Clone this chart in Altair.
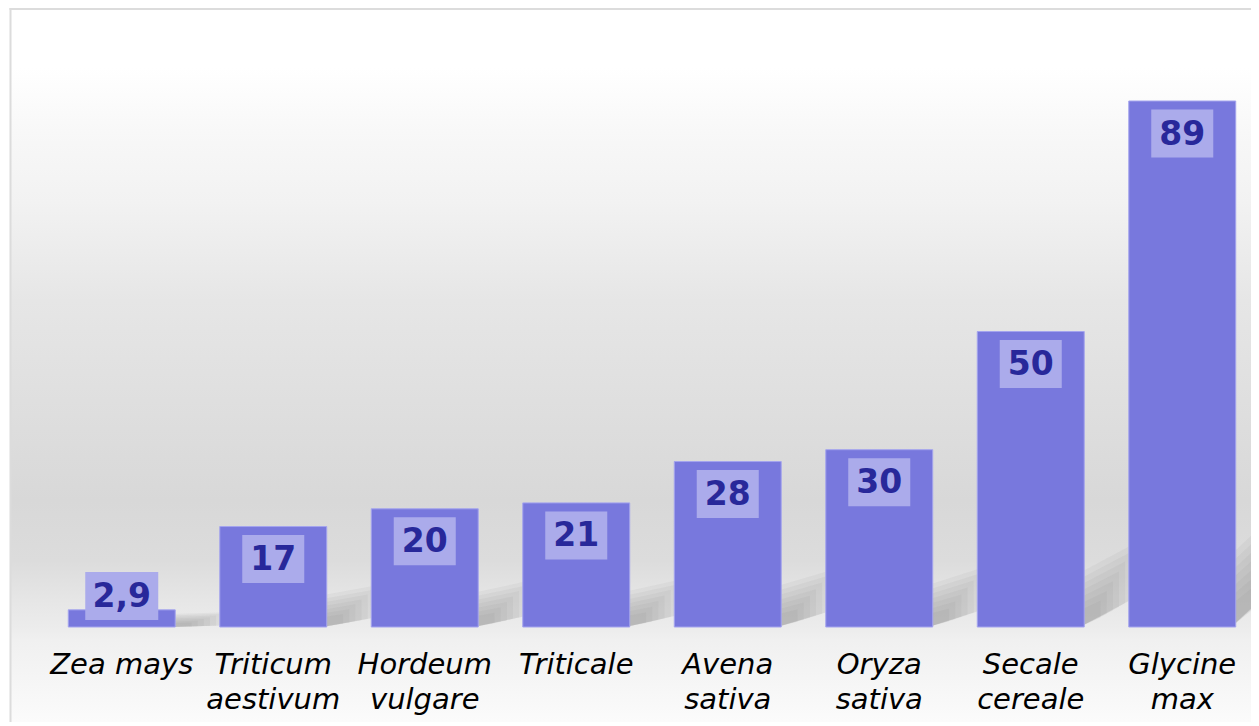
import math
import altair as alt
import pandas as pd

# ---- data ----
categories = ["Zea mays", "Triticum\naestivum", "Hordeum\nvulgare", "Triticale",
              "Avena\nsativa", "Oryza\nsativa", "Secale\ncereale", "Glycine\nmax"]
values = [2.9, 17, 20, 21, 28, 30, 50, 89]
value_labels = ["2,9", "17", "20", "21", "28", "30", "50", "89"]

BAR = "#7878dd"
BOX = "#ababeb"
TXT = "#28289a"

df = pd.DataFrame({"cat": categories, "v": values, "lab": value_labels,
                   "idx": list(range(len(values)))})

W_VIEW, H = 1205, 591     # drawn view
X_RANGE = 1212            # band layout extends slightly past the view edge
YMAX = 100
BOTTOM = 95

# soft shadow polygons (derived from values), several nested layers for blur
half_bar = 0.353
rows = []
for layer, f in enumerate([1.3, 1.15, 1.0, 0.85, 0.7, 0.55, 0.4]):
    for i, v in enumerate(values):
        hs = math.sqrt(v) * f
        s = 0.08 * v * f
        xr = i + half_bar
        rows.append({"g": f"{layer}-{i}", "sx": xr - 0.03, "lo": 0, "hi": hs})
        rows.append({"g": f"{layer}-{i}", "sx": xr + 0.27 * f, "lo": s, "hi": hs + s})
shadow_df = pd.DataFrame(rows)

one = pd.DataFrame({"a": [0]})

# ---- background ----
TOTAL = 28 + H + BOTTOM
def stop(page_y, color):
    return alt.GradientStop(offset=min((page_y - 8) / TOTAL, 1), color=color)

bg_grad = alt.LinearGradient(
    gradient="linear", x1=0, x2=0, y1=0, y2=1,
    stops=[stop(8, "#ffffff"), stop(66, "#ffffff"), stop(130, "#f8f8f8"),
           stop(200, "#f2f2f2"), stop(300, "#e6e6e6"), stop(400, "#dfdfdf"),
           stop(500, "#d8d8d8"), stop(560, "#dcdcdc"), stop(600, "#e6e6e6"),
           stop(627, "#ececec"), stop(640, "#f0f0f0"), stop(700, "#f8f8f8"),
           stop(722, "#fbfbfb")])

background = alt.Chart(one).mark_rect(fill=bg_grad).encode(
    x=alt.value(-35), x2=alt.value(X_RANGE + 2), y=alt.value(-26), y2=alt.value(H + BOTTOM))

frame_left = alt.Chart(one).mark_rule(color="#dcdcdc", strokeWidth=2).encode(
    x=alt.value(-35.5), y=alt.value(-28), y2=alt.value(H + BOTTOM))
frame_top = alt.Chart(one).mark_rule(color="#dcdcdc", strokeWidth=2).encode(
    y=alt.value(-27), x=alt.value(-36.5), x2=alt.value(X_RANGE + 2))

# ---- shadows ----
shadows = alt.Chart(shadow_df).mark_area(color="#7a7a7a", opacity=0.075).encode(
    x=alt.X("sx:Q", scale=alt.Scale(domain=[-0.5, len(values) - 0.5], range=[0, X_RANGE],
                                     nice=False, zero=False), axis=None),
    y=alt.Y("hi:Q", scale=alt.Scale(domain=[0, YMAX]), axis=None),
    y2="lo:Q",
    detail="g:N",
)

xenc = alt.X("cat:N", sort=categories,
             scale=alt.Scale(paddingInner=0.294, paddingOuter=0.147, range=[0, X_RANGE]),
             axis=alt.Axis(title=None, domain=False, ticks=False, grid=False, labelAngle=0,
                           labelFont="DejaVu Sans", labelFontStyle="italic",
                           labelFontSize=29, labelColor="black", labelPadding=23,
                           labelExpr="split(datum.label, '\\n')", labelLineHeight=35,
                           labelOverlap=False, labelLimit=300, labelBound=False,
                           zindex=2))
yscale = alt.Scale(domain=[0, YMAX])

bars = alt.Chart(df).mark_bar(color=BAR, stroke="#a4a4ee", strokeWidth=1).encode(
    x=xenc,
    y=alt.Y("v:Q", scale=yscale, axis=None),
)

lab_base = alt.Chart(df).transform_calculate(
    c="max(datum.v - 5.5, 5.25)",
    top="max(datum.v - 5.5, 5.25) + 4.06",
    bot="max(datum.v - 5.5, 5.25) - 4.06",
    bw="length(datum.lab) > 2 ? 73 : 62",
)

boxes = lab_base.mark_bar(color=BOX).encode(
    x=alt.X("cat:N", sort=categories),
    y=alt.Y("top:Q", scale=yscale, axis=None),
    y2="bot:Q",
    size=alt.Size("bw:Q", scale=None, legend=None),
)

texts = lab_base.mark_text(font="DejaVu Sans", fontWeight="bold", fontSize=33,
                           color=TXT, baseline="middle", dy=1).encode(
    x=alt.X("cat:N", sort=categories),
    y=alt.Y("c:Q", scale=yscale, axis=None),
    text="lab:N",
)

main = alt.layer(bars, boxes, texts)

chart = alt.layer(background, frame_left, frame_top, shadows, main).resolve_scale(
    x="independent"
).properties(
    width=W_VIEW, height=H,
    autosize=alt.AutoSizeParams(type="none"),
    padding={"left": 38, "top": 28, "right": 0, "bottom": BOTTOM},
    background="white",
).configure_view(stroke=None)

chart.save("out.html", embed_options={"renderer": "svg", "actions": False})
